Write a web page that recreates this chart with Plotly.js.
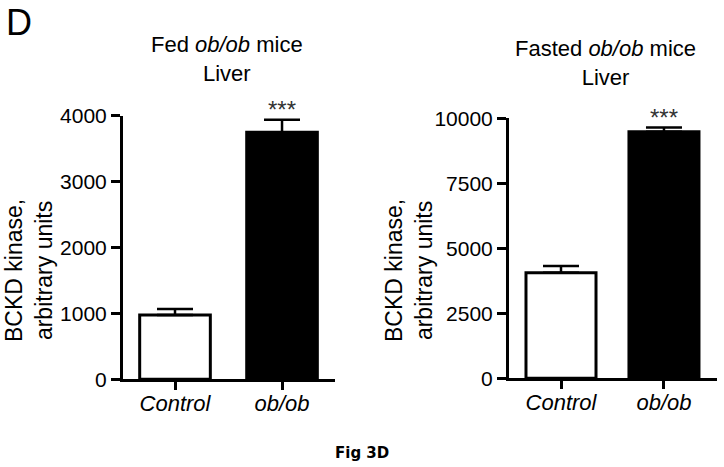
<!DOCTYPE html>
<html>
<head>
<meta charset="utf-8">
<script src="https://cdn.plot.ly/plotly-3.0.1.min.js"></script>
<style>html,body{margin:0;padding:0;background:#fff;}#chart{width:724px;height:467px;}</style>
</head>
<body>
<div id="chart"></div>
<script>
// Data
var categories = ["Control", "ob/ob"];
var categoryLabels = ["<i>Control</i>", "<i>ob/ob</i>"];
var fedValues = [975, 3750];
var fedErrors = [90, 187];
var fastedValues = [4060, 9480];
var fastedErrors = [255, 170];
var fedTicks = [0, 1000, 2000, 3000, 4000];
var fastedTicks = [0, 2500, 5000, 7500, 10000];
var significance = ["", "***"];

var W = 724, H = 467;
var FONT = "Liberation Sans, Arial, sans-serif";
function px(x) { return x / W; }
function py(y) { return (H - y) / H; }

var traces = [
  {
    type: "bar", x: categories, y: fedValues, xaxis: "x", yaxis: "y",
    width: 0.66,
    marker: { color: ["#ffffff", "#000000"], line: { color: "#000000", width: 3 } },
    error_y: { type: "data", symmetric: false, array: fedErrors, arrayminus: [0, 0], color: "#000000", thickness: 2.5, width: 18 },
    hoverinfo: "none"
  },
  {
    type: "bar", x: categories, y: fastedValues, xaxis: "x2", yaxis: "y2",
    width: 0.68,
    marker: { color: ["#ffffff", "#000000"], line: { color: "#000000", width: 3 } },
    error_y: { type: "data", symmetric: false, array: fastedErrors, arrayminus: [0, 0], color: "#000000", thickness: 2.5, width: 18 },
    hoverinfo: "none"
  }
];

var axisCommon = {
  showline: true, linecolor: "#000000", linewidth: 3,
  showgrid: false, zeroline: false,
  ticks: "outside", ticklen: 9, tickwidth: 3, tickcolor: "#000000",
  tickfont: { family: FONT, size: 21, color: "#000000" },
  fixedrange: true
};

function merge(a, b) { var o = {}; for (var k in a) o[k] = a[k]; for (var k2 in b) o[k2] = b[k2]; return o; }

var xTickFont = { family: FONT, size: 22, color: "#000000" };

var layout = {
  width: W, height: H,
  margin: { l: 0, r: 0, t: 0, b: 0 },
  paper_bgcolor: "#ffffff", plot_bgcolor: "#ffffff",
  showlegend: false,
  font: { family: FONT, color: "#000000" },
  xaxis: merge(axisCommon, {
    domain: [px(123), px(335)], anchor: "y",
    type: "category", range: [-0.486, 1.495],
    tickmode: "array", tickvals: categories, ticktext: categoryLabels, ticklen: 8,
    tickfont: xTickFont, ticklabelstandoff: -6
  }),
  yaxis: merge(axisCommon, {
    domain: [py(379.3), py(115.7)], anchor: "x",
    range: [0, 4000], tickmode: "array", tickvals: fedTicks, tickformat: "d"
  }),
  xaxis2: merge(axisCommon, {
    domain: [px(509), px(717)], anchor: "y2",
    type: "category", range: [-0.505, 1.515],
    tickmode: "array", tickvals: categories, ticktext: categoryLabels, ticklen: 8,
    tickfont: xTickFont, ticklabelstandoff: -6
  }),
  yaxis2: merge(axisCommon, {
    domain: [py(378.3), py(118.3)], anchor: "x2",
    range: [0, 10000], tickmode: "array", tickvals: fastedTicks, tickformat: "d"
  }),
  annotations: [
    { text: "D", xref: "paper", yref: "paper", x: px(4), y: py(0), xanchor: "left", yanchor: "top", showarrow: false, font: { family: FONT, size: 36, color: "#000" } },
    { text: "Fed <i>ob/ob</i> mice<br>Liver", xref: "paper", yref: "paper", x: px(227), y: py(59), xanchor: "center", yanchor: "middle", showarrow: false, font: { family: FONT, size: 22, color: "#000" } },
    { text: "Fasted <i>ob/ob</i> mice<br>Liver", xref: "paper", yref: "paper", x: px(605), y: py(63), xanchor: "center", yanchor: "middle", showarrow: false, font: { family: FONT, size: 22, color: "#000" } },
    { text: "BCKD kinase,<br>arbitrary units", xref: "paper", yref: "paper", x: px(29), y: py(271), xanchor: "center", yanchor: "middle", textangle: -90, showarrow: false, font: { family: FONT, size: 23, color: "#000" } },
    { text: "BCKD kinase,<br>arbitrary units", xref: "paper", yref: "paper", x: px(409), y: py(271), xanchor: "center", yanchor: "middle", textangle: -90, showarrow: false, font: { family: FONT, size: 23, color: "#000" } },
    { text: significance[1], xref: "x", yref: "paper", x: categories[1], y: py(109), xanchor: "center", yanchor: "middle", showarrow: false, font: { family: FONT, size: 24, color: "#333" } },
    { text: significance[1], xref: "x2", yref: "paper", x: categories[1], y: py(117), xanchor: "center", yanchor: "middle", showarrow: false, font: { family: FONT, size: 24, color: "#333" } },
    { text: "<b>Fig 3D</b>", xref: "paper", yref: "paper", x: px(362), y: py(453), xanchor: "center", yanchor: "middle", showarrow: false, font: { family: "DejaVu Sans, Verdana, sans-serif", size: 15, color: "#000" } }
  ]
};

Plotly.newPlot("chart", traces, layout, { displayModeBar: false, staticPlot: true });
</script>
</body>
</html>
